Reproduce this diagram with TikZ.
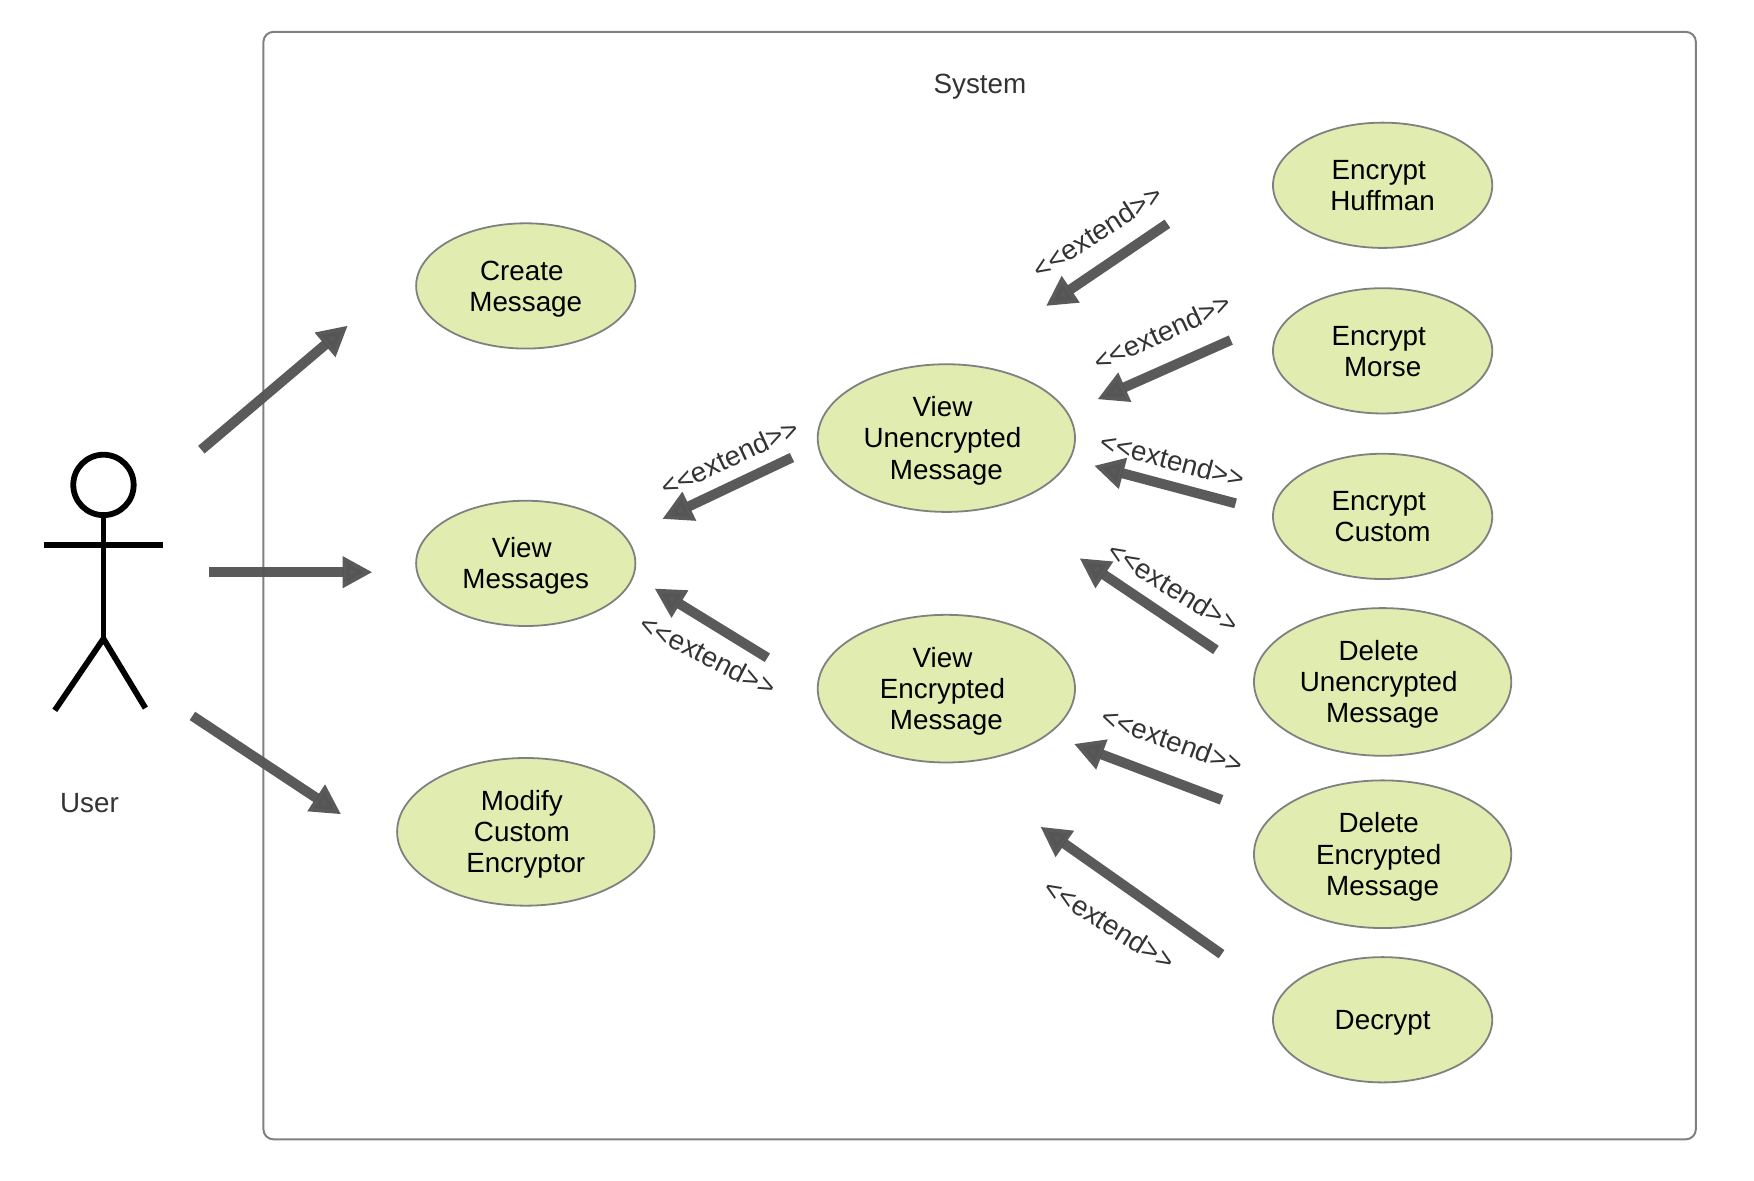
\documentclass[tikz,border=0pt]{standalone}
\usepackage{fontspec}
\setmainfont{Liberation Sans}
\usetikzlibrary{arrows.meta,shapes.geometric}
\definecolor{usefill}{HTML}{E1ECB0}
\definecolor{useline}{HTML}{808080}
\definecolor{arrowgray}{HTML}{555555}
\definecolor{labelgray}{HTML}{333333}
\newcommand{\tsp}{\rule{.28em}{0pt}}
\newcommand{\firstsp}{\tsp\rule{0pt}{12.8pt}}
\newcommand{\ext}{<{}<extend>{}>}
\tikzset{
  basecase/.style={ellipse,draw=useline,line width=.9pt,fill=usefill,inner sep=0pt,
    minimum width=196*0.5593pt,minimum height=112*0.5593pt,align=center,yshift=-.35pt,
    font=\fontsize{13.9}{15.6}\selectfont},
  usecase/.style={basecase,execute at end node={\rule[-3pt]{0pt}{3pt}}},
  bigcase/.style={usecase,minimum width=230*0.5593pt,minimum height=132*0.5593pt},
  flow/.style={-{Triangle[length=15pt,width=15pt]},line width=5pt,draw=arrowgray,opacity=.97},
  extendlabel/.style={text=labelgray,inner sep=0pt,font=\fontsize{13.9}{15.6}\selectfont},
  stickman/.style={draw=black,line width=2.9pt}
}
\begin{document}
\begin{tikzpicture}[x=0.5593pt,y=-0.5593pt]
  \useasboundingbox (0,0) rectangle (1568,1055);

  % 1. Draw the System Frame
  \draw[useline,line width=1pt,rounded corners=5pt] (235.5,28.5) rectangle (1516,1018.5);
  \node[extendlabel] (system) at (876,77.5) {System};

  % 2. Draw the Actor
  \node[stickman,circle,inner sep=0pt,minimum size=54*0.5593pt] (head) at (92.5,433.5) {};
  \coordinate (hip) at (92.5,571);
  \coordinate (armL) at (39,487);
  \coordinate (armR) at (146,487);
  \coordinate (legL) at (49,635);
  \coordinate (legR) at (130,633);
  \draw[stickman] (head.south) -- (hip);
  \draw[stickman] (armL) -- (armR);
  \draw[stickman] (legL) -- (hip) -- (legR);
  \node[extendlabel] (user) at (80,718) {User};

  % 3. Define the Use Cases
  \node[usecase] (createmsg) at (470,255) {Create\firstsp\\Message};
  \node[usecase] (viewmsg) at (470,503) {View\firstsp\\Messages};
  \node[bigcase] (modify) at (470,743) {Modify\firstsp\\Custom\tsp\\Encryptor};
  \node[bigcase] (viewplain) at (846,391) {View\firstsp\\Unencrypted\tsp\\Message};
  \node[bigcase] (viewcipher) at (846,615) {View\firstsp\\Encrypted\tsp\\Message};
  \node[usecase] (huffman) at (1236,165) {Encrypt\firstsp\\Huffman};
  \node[usecase] (morse) at (1236,313) {Encrypt\firstsp\\Morse};
  \node[usecase] (custom) at (1236,461) {Encrypt\firstsp\\Custom};
  \node[bigcase] (delplain) at (1236,609) {Delete\firstsp\\Unencrypted\tsp\\Message};
  \node[bigcase] (delcipher) at (1236,763) {Delete\firstsp\\Encrypted\tsp\\Message};
  \node[basecase] (decrypt) at (1236,911) {\rule{0pt}{13pt}Decrypt\rule[-3pt]{0pt}{3pt}};

  % 4. Define the Arrow Ends (none of them touches a use case)
  \coordinate (userA) at (180,402);   \coordinate (createA) at (311,291);
  \coordinate (userB) at (187,511.5); \coordinate (viewB) at (333,511.5);
  \coordinate (userC) at (172,640);   \coordinate (modifyC) at (305,728);
  \coordinate (plainD) at (708,409);  \coordinate (viewD) at (592,464);
  \coordinate (cipherE) at (686,588); \coordinate (viewE) at (585,526);
  \coordinate (huffF) at (1043.6,200); \coordinate (plainF) at (935,273.6);
  \coordinate (morseG) at (1100.3,304); \coordinate (plainG) at (981,357);
  \coordinate (customH) at (1104.6,450); \coordinate (plainH) at (978,416.3);
  \coordinate (delplainI) at (1087,581); \coordinate (plainI) at (965,499);
  \coordinate (delcipherJ) at (1092,715); \coordinate (cipherJ) at (960,665);
  \coordinate (decryptK) at (1092,853); \coordinate (cipherK) at (930,739);

  % 5. Draw the Arrows
  \draw[flow] (userA) -- (createA);
  \draw[flow] (userB) -- (viewB);
  \draw[flow] (userC) -- (modifyC);
  \draw[flow] (plainD) -- (viewD);
  \draw[flow] (cipherE) -- (viewE);
  \draw[flow] (huffF) -- (plainF);
  \draw[flow] (morseG) -- (plainG);
  \draw[flow] (customH) -- (plainH);
  \draw[flow] (delplainI) -- (plainI);
  \draw[flow] (delcipherJ) -- (cipherJ);
  \draw[flow] (decryptK) -- (cipherK);

  % 6. Label the Arrows
  \node[extendlabel,rotate=25] (labelD) at (652,409) {\ext};
  \node[extendlabel,rotate=-27] (labelE) at (633,586) {\ext};
  \node[extendlabel,rotate=33] (labelF) at (981,207) {\ext};
  \node[extendlabel,rotate=25] (labelG) at (1039,297) {\ext};
  \node[extendlabel,rotate=-15] (labelH) at (1048,411) {\ext};
  \node[extendlabel,rotate=-32] (labelI) at (1049,525) {\ext};
  \node[extendlabel,rotate=-20] (labelJ) at (1048,662) {\ext};
  \node[extendlabel,rotate=-32] (labelK) at (992,826) {\ext};
\end{tikzpicture}
\end{document}
